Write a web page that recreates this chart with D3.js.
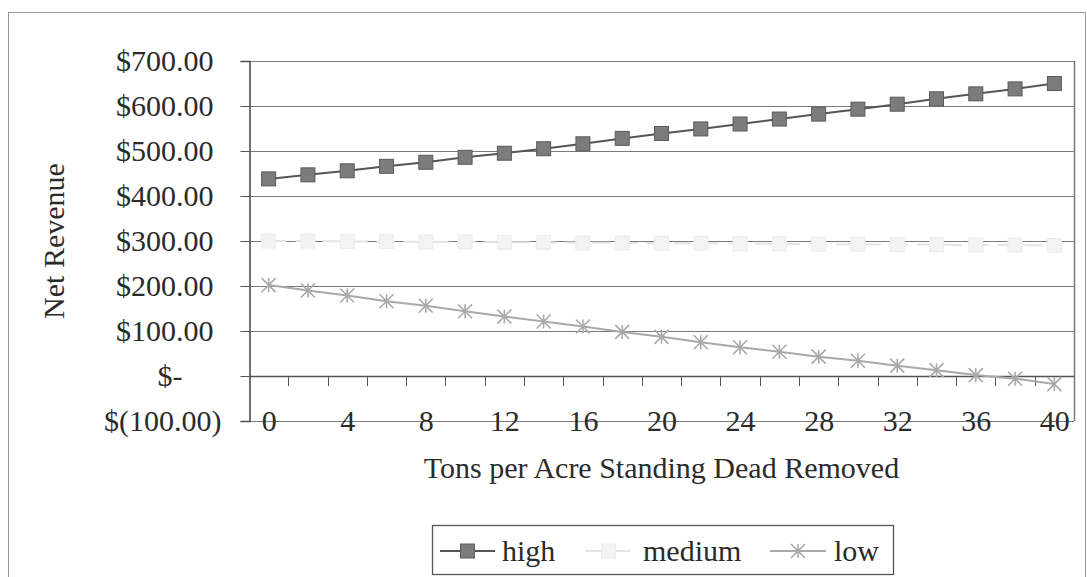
<!DOCTYPE html>
<html lang="en">
  <head>
    <meta charset="UTF-8" />
    <title>Net Revenue vs Tons per Acre</title>
    <style>
      body { margin: 0; background: #fff; }
    </style>
  </head>
  <body>
    <div class="chart"></div>
    <script src="https://d3js.org/d3.v7.min.js"></script>
    <script>
      // 資料
      const tons = d3.range(0, 41, 2).map(String);
      const xTickLabels = ["0", "4", "8", "12", "16", "20", "24", "28", "32", "36", "40"];
      const yTicks = [-100, 0, 100, 200, 300, 400, 500, 600, 700];
      const high = [438, 447, 456, 466, 475, 486, 495, 505, 516, 528, 539, 549, 560, 571, 582, 593, 604, 616, 627, 638, 650];
      const medium = [300, 300, 299, 299, 298, 298, 297, 297, 296, 296, 295, 295, 294, 294, 293, 293, 292, 292, 291, 291, 290];
      const low = [202, 190, 179, 166, 156, 144, 132, 121, 110, 98, 87, 75, 64, 54, 43, 34, 23, 13, 2, -6, -18];

      const FONT = "Times New Roman, Liberation Serif, DejaVu Serif, serif";
      const TEXT_COLOR = "#2b2b2b";

      const drawChart = () => {
        const svgWidth = 1087,
          svgHeight = 577,
          plot = { left: 249, right: 1074, top: 61, bottom: 421 };

        const svg = d3
          .select(".chart")
          .append("svg")
          .attr("width", svgWidth)
          .attr("height", svgHeight)
          .style("font-family", FONT);

        // 外框
        svg
          .append("rect")
          .attr("x", 8.5)
          .attr("y", 12.5)
          .attr("width", 1077)
          .attr("height", 570)
          .attr("fill", "none")
          .attr("stroke", "#9a9a9a");

        // 比例尺
        const xScale = d3
          .scalePoint()
          .domain(tons)
          .range([plot.left, plot.right])
          .padding(0.5);
        const xBand = d3
          .scaleBand()
          .domain(tons)
          .range([plot.left, plot.right]);
        const yScale = d3
          .scaleLinear()
          .domain([-100, 700])
          .range([plot.bottom, plot.top]);

        // 格線
        svg
          .append("g")
          .selectAll("line")
          .data(yTicks)
          .join("line")
          .attr("x1", plot.left)
          .attr("x2", plot.right)
          .attr("y1", (d) => Math.round(yScale(d)) + 0.5)
          .attr("y2", (d) => Math.round(yScale(d)) + 0.5)
          .attr("stroke", "#7a7a7a")
          .attr("stroke-width", 1.2);

        // 右邊框
        svg
          .append("line")
          .attr("x1", plot.right + 0.5)
          .attr("x2", plot.right + 0.5)
          .attr("y1", plot.top)
          .attr("y2", plot.bottom)
          .attr("stroke", "#7a7a7a")
          .attr("stroke-width", 1.5);

        // Y軸
        const fmt = (d) =>
          d === 0 ? "$-" : d < 0 ? `$(${d3.format(".2f")(-d)})` : `$${d3.format(".2f")(d)}`;
        const yAxis = svg
          .append("g")
          .attr("transform", `translate(${plot.left + 0.5}, 0)`)
          .call(d3.axisLeft(yScale).tickValues(yTicks).tickSize(9).tickFormat(fmt))
          .attr("font-family", null)
          .attr("font-size", null);
        yAxis.select(".domain").attr("stroke", "#444").attr("stroke-width", 1.5);
        yAxis.selectAll(".tick line").attr("stroke", "#555");
        yAxis
          .selectAll(".tick text")
          .attr("x", (d) => (d === 0 ? -67 : d < 0 ? -28 : -36))
          .attr("dy", "0.33em")
          .attr("fill", TEXT_COLOR)
          .style("font-family", FONT)
          .style("font-size", "30px");

        // X軸 (在 0 的位置)
        svg
          .append("line")
          .attr("x1", plot.left)
          .attr("x2", plot.right)
          .attr("y1", Math.round(yScale(0)) + 0.5)
          .attr("y2", Math.round(yScale(0)) + 0.5)
          .attr("stroke", "#555")
          .attr("stroke-width", 1.4);
        svg
          .append("g")
          .selectAll("line")
          .data(tons.slice(1))
          .join("line")
          .attr("x1", (d) => Math.round(xBand(d)) + 0.5)
          .attr("x2", (d) => Math.round(xBand(d)) + 0.5)
          .attr("y1", yScale(0))
          .attr("y2", yScale(0) + 10)
          .attr("stroke", "#555");

        const xAxis = svg
          .append("g")
          .attr("transform", `translate(0, ${plot.bottom})`)
          .call(d3.axisBottom(xScale).tickValues(xTickLabels).tickSize(0))
          .attr("font-family", null)
          .attr("font-size", null);
        xAxis.select(".domain").remove();
        xAxis
          .selectAll(".tick text")
          .attr("y", 0)
          .attr("dy", "0.33em")
          .attr("fill", TEXT_COLOR)
          .style("font-family", FONT)
          .style("font-size", "30px");

        // 軸標題
        svg
          .append("text")
          .attr("x", (plot.left + plot.right) / 2)
          .attr("y", 478)
          .attr("text-anchor", "middle")
          .attr("fill", TEXT_COLOR)
          .style("font-family", FONT)
          .style("font-size", "30px")
          .text("Tons per Acre Standing Dead Removed");
        svg
          .append("text")
          .attr("transform", `translate(64, ${(plot.top + plot.bottom) / 2}) rotate(-90)`)
          .attr("text-anchor", "middle")
          .attr("fill", TEXT_COLOR)
          .style("font-family", FONT)
          .style("font-size", "30px")
          .text("Net Revenue");

        // 線條
        const line = d3
          .line()
          .x((d, i) => xScale(tons[i]))
          .y((d) => yScale(d));

        const series = [
          { name: "high", values: high, color: "#555", width: 2, marker: "square", fill: "#7c7c7c", dash: null },
          { name: "medium", values: medium, color: "#e4e4e4", width: 2, marker: "square", fill: "#f3f3f3", dash: "18,9" },
          { name: "low", values: low, color: "#a9a9a9", width: 2, marker: "star", fill: "none", dash: null },
        ];

        const drawMarker = (g, type, cx, cy, s) => {
          if (type === "square") {
            g.append("rect")
              .attr("x", cx - 7)
              .attr("y", cy - 7)
              .attr("width", 14)
              .attr("height", 14)
              .attr("fill", s.fill)
              .attr("stroke", s.name === "high" ? "#5a5a5a" : "#ececec");
          } else {
            const r = 7;
            g.append("path")
              .attr("d", `M${cx - r},${cy - r}L${cx + r},${cy + r}M${cx - r},${cy + r}L${cx + r},${cy - r}M${cx},${cy - r}L${cx},${cy + r}`)
              .attr("stroke", s.color)
              .attr("stroke-width", 1.6)
              .attr("fill", "none");
          }
        };

        series.forEach((s) => {
          const g = svg.append("g");
          g.append("path")
            .datum(s.values)
            .attr("d", line)
            .attr("fill", "none")
            .attr("stroke", s.color)
            .attr("stroke-width", s.width)
            .attr("stroke-dasharray", s.dash);
          s.values.forEach((v, i) => drawMarker(g, s.marker, xScale(tons[i]), yScale(v), s));
        });

        // 圖例
        const legend = svg.append("g");
        legend
          .append("rect")
          .attr("x", 432.5)
          .attr("y", 525.5)
          .attr("width", 461)
          .attr("height", 49)
          .attr("fill", "#fff")
          .attr("stroke", "#555")
          .attr("stroke-width", 1.3);
        const legendItems = [
          { s: series[0], x0: 440, x1: 495, tx: 502 },
          { s: series[1], x0: 585, x1: 632, tx: 643 },
          { s: series[2], x0: 770, x1: 826, tx: 834 },
        ];
        legendItems.forEach(({ s, x0, x1, tx }) => {
          legend
            .append("line")
            .attr("x1", x0)
            .attr("x2", x1)
            .attr("y1", 551)
            .attr("y2", 551)
            .attr("stroke", s.color)
            .attr("stroke-width", 2)
            .attr("stroke-dasharray", s.dash);
          drawMarker(legend, s.marker, (x0 + x1) / 2, 551, s);
          legend
            .append("text")
            .attr("x", tx)
            .attr("y", 561)
            .attr("fill", TEXT_COLOR)
            .style("font-family", FONT)
            .style("font-size", "30px")
            .text(s.name);
        });
      };

      drawChart();
    </script>
  </body>
</html>
